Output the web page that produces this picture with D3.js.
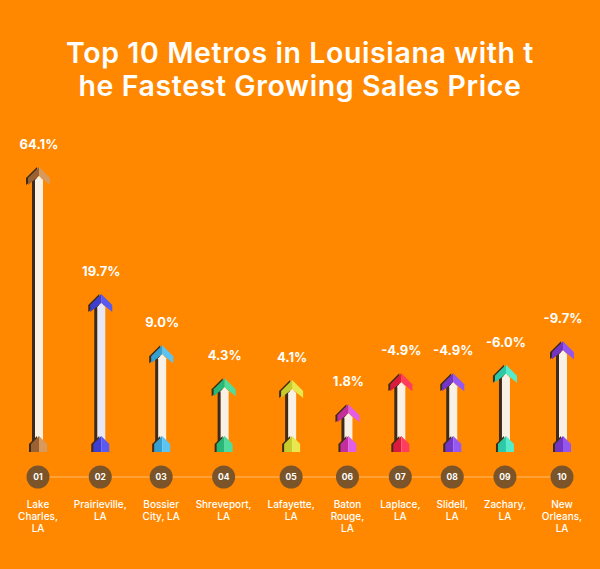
<!DOCTYPE html>
<html><head><meta charset="utf-8">
<script src="https://cdn.jsdelivr.net/npm/d3@7"></script>
<style>html,body{margin:0;padding:0;background:#FF8800;}svg{display:block;}</style>
</head><body>
<svg id="chart" width="600" height="569"></svg>
<script>
// ---- data ----
const titleLines = ["Top 10 Metros in Louisiana with t", "he Fastest Growing Sales Price"];
const ranks = ["01","02","03","04","05","06","07","08","09","10"];
const metros = [["Lake","Charles,","LA"],["Prairieville,","LA"],["Bossier","City, LA"],["Shreveport,","LA"],["Lafayette,","LA"],["Baton","Rouge,","LA"],["Laplace,","LA"],["Slidell,","LA"],["Zachary,","LA"],["New","Orleans,","LA"]];
const growth = [64.1, 19.7, 9.0, 4.3, 4.1, 1.8, -4.9, -4.9, -6.0, -9.7];
const darkColors  = ["#9A6232","#3E3ED0","#35A0D0","#27B877","#C6CC2E","#C22E9A","#D91B3E","#7436C8","#2DC9A6","#7434C2"];
const lightColors = ["#D89A5C","#5A5AF2","#5BC4F2","#4FDD9E","#E8E84E","#E25EE6","#FF3D5E","#9658F2","#55EBCB","#9456EE"];
const shaftColors = ["#FAF1E6","#E7E6F6","#FAF1E6","#FAF1E6","#FAF1E6","#FAF1E6","#FAF1E6","#FAF1E6","#FAF1E6","#FAF1E6"];

const svg = d3.select("#chart");
const W = 600, baseY = 452, axisY = 477;
const font = "Inter, 'Open Sans', sans-serif";

svg.append("rect").attr("width", W).attr("height", 569).attr("fill", "#FF8800");

// title
svg.append("g").selectAll("text").data(titleLines).join("text")
  .attr("x", W/2).attr("y", (d,i) => 63 + i*33)
  .attr("text-anchor","middle").attr("fill","#fff")
  .attr("font-family", font).attr("font-weight", 600).attr("font-size", 28.5)
  .attr("letter-spacing", 0.6)
  .text(d => d);

const data = ranks.map((r,i) => ({r, v: growth[i], lbl: metros[i], dk: darkColors[i], lt: lightColors[i], sh: shaftColors[i]}));

const g = svg.append("g").selectAll("g").data(data).join("g");

// metro labels first, so that column slots can follow their widths (space-between layout)
g.each(function(d){
  const txt = d3.select(this).append("text").attr("text-anchor","middle").attr("fill","#fff")
    .attr("font-family", font).attr("font-weight", 500).attr("font-size", 10);
  txt.selectAll("tspan").data(d.lbl).join("tspan")
    .attr("x", 0).attr("y", (l,i) => 508 + i*12).text(l => l);
  d.w = d3.max(txt.selectAll("tspan").nodes(), n => n.getComputedTextLength());
});
// cumulative slot centres (label widths + equal gaps), mapped by a linear scale
const gapUnits = 16;
let acc = 0;
data.forEach((d,i) => {
  if (i > 0) acc += (data[i-1].w + d.w)/2 + gapUnits;
  d.slot = acc;
});
const x = d3.scaleLinear().domain([0, acc]).range([38, 562]);
const h = d3.scaleSqrt().domain([0, d3.max(growth, v => Math.abs(v))]).range([0, 285]);

// axis line
svg.insert("line", "g").attr("x1", x(0)).attr("x2", x(acc))
  .attr("y1", axisY).attr("y2", axisY).attr("stroke", "#FFAA4A").attr("stroke-width", 1.5);

g.attr("transform", d => `translate(${x(d.slot)},0)`);

const shadow = "#3E2A17";
const line = d3.line();
g.each(function(d){
  const s = d3.select(this);
  const t = baseY - h(Math.abs(d.v));
  // shaft shadow + shaft
  s.append("path").attr("fill", shadow)
    .attr("d", line([[-6,t+14],[-2,t+10],[2,t+14],[2,baseY],[-6,baseY]]) + "Z");
  s.append("path").attr("fill", d.sh)
    .attr("d", line([[-3,t+13],[1,t+9],[5,t+13],[5,baseY],[-3,baseY]]) + "Z");
  // head
  s.append("path").attr("fill", shadow)
    .attr("d", line([[-1,0+t],[-12,t+11],[-12,t+18],[-1,t+9]]) + "Z");
  s.append("path").attr("fill", d.dk)
    .attr("d", line([[1,t],[-10,t+11],[-10,t+18],[1,t+9]]) + "Z");
  s.append("path").attr("fill", d.lt)
    .attr("d", line([[1,t],[12,t+11],[12,t+18],[1,t+9]]) + "Z");
  // white tip over head
  s.append("path").attr("fill", d.sh)
    .attr("d", line([[-3,t+14],[1,t+9],[5,t+14]]) + "Z");
  // fletching
  const b = baseY;
  s.append("path").attr("fill", shadow)
    .attr("d", line([[-1,b-16],[-9,b-8],[-9,b],[-1,b]]) + "Z");
  s.append("path").attr("fill", d.dk)
    .attr("d", line([[1,b-16],[-7,b-8],[-7,b],[1,b]]) + "Z");
  s.append("path").attr("fill", d.lt)
    .attr("d", line([[1,b-16],[9,b-8],[9,b],[1,b]]) + "Z");
  // value label
  s.append("text").attr("x", 1).attr("y", t - 18)
    .attr("text-anchor","middle").attr("fill","#fff")
    .attr("font-family", font).attr("font-weight", 700).attr("font-size", 13)
    .text(d.v.toFixed(1) + "%");
  // rank circle
  s.append("circle").attr("cy", axisY).attr("r", 11.5).attr("fill", "#7B5429");
  s.append("text").attr("y", axisY + 3).attr("text-anchor","middle").attr("fill","#fff")
    .attr("font-family", font).attr("font-weight", 700).attr("font-size", 8.5)
    .text(d.r);
});
</script>
</body></html>
